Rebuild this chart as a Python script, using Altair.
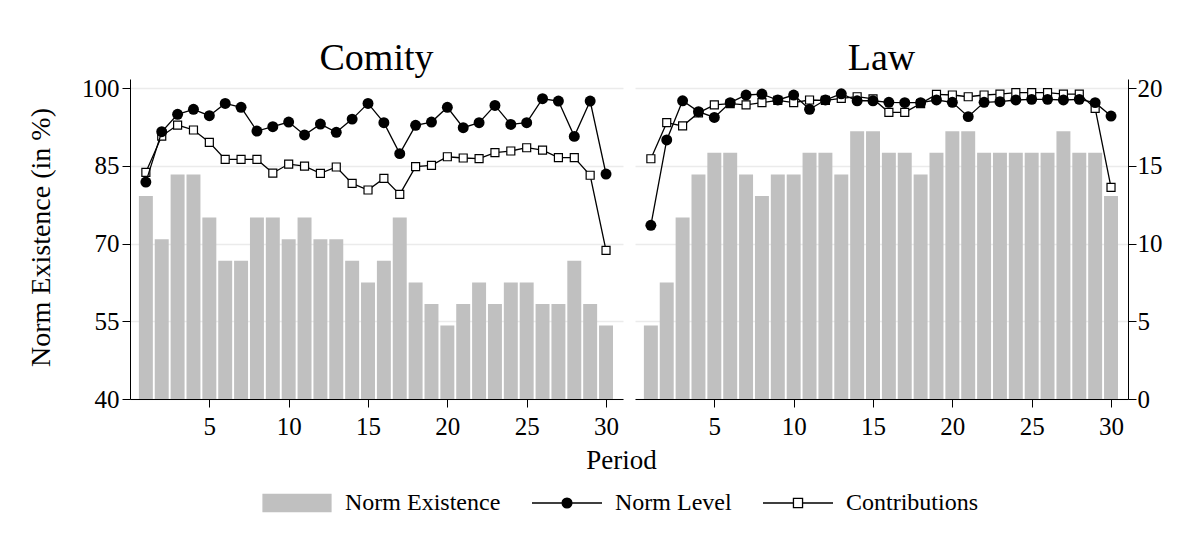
import altair as alt
import pandas as pd

# ---------------- data ----------------
periods = list(range(1, 31))

comity_existence = [79.17, 70.83, 83.33, 83.33, 75.0, 66.67, 66.67, 75.0, 75.0, 70.83,
                    75.0, 70.83, 70.83, 66.67, 62.5, 66.67, 75.0, 62.5, 58.33, 54.17,
                    58.33, 62.5, 58.33, 62.5, 62.5, 58.33, 58.33, 66.67, 58.33, 54.17]
comity_level = [13.95, 17.19, 18.31, 18.63, 18.22, 19.01, 18.76, 17.23, 17.51, 17.81,
                16.98, 17.68, 17.15, 18.0, 19.01, 17.77, 15.78, 17.6, 17.81, 18.76,
                17.45, 17.77, 18.88, 17.66, 17.77, 19.31, 19.16, 16.89, 19.16, 14.47]
comity_contrib = [14.58, 16.91, 17.62, 17.3, 16.51, 15.41, 15.41, 15.41, 14.53, 15.11,
                  14.98, 14.51, 14.92, 13.87, 13.44, 14.19, 13.16, 14.94, 15.03, 15.58,
                  15.5, 15.46, 15.84, 15.95, 16.16, 16.01, 15.52, 15.52, 14.39, 9.56]

law_existence = [54.17, 62.5, 75.0, 83.33, 87.5, 87.5, 83.33, 79.17, 83.33, 83.33,
                 87.5, 87.5, 83.33, 91.67, 91.67, 87.5, 87.5, 83.33, 87.5, 91.67,
                 91.67, 87.5, 87.5, 87.5, 87.5, 87.5, 91.67, 87.5, 87.5, 79.17]
law_level = [11.17, 16.66, 19.18, 18.48, 18.11, 19.06, 19.55, 19.61, 19.23, 19.55,
             18.63, 19.23, 19.63, 19.18, 19.18, 19.08, 19.06, 19.06, 19.23, 19.08,
             18.16, 19.08, 19.12, 19.23, 19.27, 19.27, 19.23, 19.27, 19.06, 18.2]
law_contrib = [15.45, 17.77, 17.56, 18.4, 18.91, 19.0, 18.91, 19.06, 19.2, 19.06,
               19.23, 19.2, 19.34, 19.44, 19.3, 18.44, 18.44, 19.0, 19.59, 19.55,
               19.44, 19.55, 19.61, 19.7, 19.7, 19.7, 19.61, 19.61, 18.69, 13.61]

panel_titles = ["Comity", "Law"]
series_names = ["Norm Existence", "Norm Level", "Contributions"]
x_ticks = [5, 10, 15, 20, 25, 30]
left_ticks = [40, 55, 70, 85, 100]
right_ticks = [0, 5, 10, 15, 20]

# ---------------- styling ----------------
FONT = "Liberation Serif"
BAR = "#c0c0c0"
W, H = 493, 320
XDOM = [0, 31.07]
LDOM = [40, 101.74]
RDOM = [0, 20.58]

legend_paths = [
    "M-0.97,-0.243H0.97V0.243H-0.97Z",
    "M-1,0H-0.14M0.14,0H1M-0.14,0A0.14,0.14 0 1,0 0.14,0A0.14,0.14 0 1,0 -0.14,0Z",
    "M-1,0H-0.13M0.13,0H1M-0.13,-0.13H0.13V0.13H-0.13Z",
]


def make_legend():
    return alt.Legend(title=None, orient="none", legendX=131, legendY=388,
                      direction="horizontal", symbolSize=4900, symbolStrokeWidth=1.3,
                      symbolOpacity=1, labelFont=FONT, labelFontSize=24,
                      labelColor="black", labelOffset=12, columnPadding=28,
                      padding=0, labelLimit=400)


def panel(existence, level, contrib, title, first):
    df = pd.DataFrame({"period": periods, "existence": existence,
                       "level": level, "contrib": contrib})
    base = alt.Chart(df)

    if first:
        xaxis = alt.Axis(values=x_ticks, grid=False, title="Period", titleX=491,
                         titleY=69, titleBaseline="alphabetic", titleAlign="center",
                         format="d")
    else:
        xaxis = alt.Axis(values=x_ticks, grid=False, title=None, format="d")
    xscale = alt.Scale(domain=XDOM, nice=False, zero=False)

    if first:
        laxis = alt.Axis(values=left_ticks, orient="left", grid=True,
                         title="Norm Existence (in %)", titleX=-81, titleY=158,
                         titleAngle=270, titleAlign="center", titleFontSize=28,
                         titleBaseline="alphabetic")
    else:
        laxis = None
    raxis = None if first else alt.Axis(values=right_ticks, orient="right",
                                        grid=True, title=None, labelPadding=1)

    lscale = alt.Scale(domain=LDOM, nice=False, zero=False)
    rscale = alt.Scale(domain=RDOM, nice=False, zero=False)

    bars = base.transform_calculate(
        x1="datum.period - 0.44", x2="datum.period + 0.44"
    ).mark_bar(color=BAR).encode(
        x=alt.X("x1:Q", scale=xscale, axis=xaxis),
        x2="x2:Q",
        y=alt.Y("existence:Q", scale=lscale, axis=laxis),
        y2=alt.datum(40),
    )
    c_line = base.mark_line(color="black", strokeWidth=1.3).encode(
        x=alt.X("period:Q", scale=xscale, axis=xaxis),
        y=alt.Y("contrib:Q", scale=rscale, axis=None),
    )
    c_pts = base.mark_point(shape="square", fill="white", stroke="black",
                            strokeWidth=1.2, size=64, opacity=1).encode(
        x=alt.X("period:Q", scale=xscale, axis=xaxis),
        y=alt.Y("contrib:Q", scale=rscale, axis=None),
    )
    l_line = base.mark_line(color="black", strokeWidth=1.3).encode(
        x=alt.X("period:Q", scale=xscale, axis=xaxis),
        y=alt.Y("level:Q", scale=rscale, axis=None),
    )
    l_pts = base.mark_point(shape="circle", filled=True, color="black",
                            size=120, opacity=1).encode(
        x=alt.X("period:Q", scale=xscale, axis=xaxis),
        y=alt.Y("level:Q", scale=rscale, axis=raxis),
    )
    layers = [bars, c_line, c_pts, l_line, l_pts]
    if first:
        leg_df = pd.DataFrame({"name": series_names})
        leg = alt.Chart(leg_df).transform_filter("false").mark_point(opacity=1).encode(
            shape=alt.Shape("name:N", scale=alt.Scale(domain=series_names, range=legend_paths),
                            legend=make_legend()),
            fill=alt.Fill("name:N", scale=alt.Scale(domain=series_names,
                                                    range=[BAR, "black", "white"]),
                          legend=make_legend()),
            stroke=alt.Stroke("name:N", scale=alt.Scale(domain=series_names,
                                                        range=[BAR, "black", "black"]),
                              legend=make_legend()),
        )
        layers.append(leg)

    return alt.layer(*layers).resolve_scale(y="independent").properties(
        width=W, height=H,
        title=alt.TitleParams(title, fontSize=38, font=FONT, fontWeight="normal",
                              color="black", baseline="bottom", offset=-40,
                              anchor="middle"),
    )


left = panel(comity_existence, comity_level, comity_contrib, panel_titles[0], True)
right = panel(law_existence, law_level, law_contrib, panel_titles[1], False)

chart = alt.hconcat(left, right, spacing=12, bounds="flush").resolve_scale(
    y="independent", x="independent"
).properties(
    padding={"left": 19, "top": 32, "right": 10, "bottom": 10},
    background="white",
).configure_view(stroke=None).configure_axis(
    labelFont=FONT, labelFontSize=25, labelColor="black",
    titleFont=FONT, titleFontSize=27, titleFontWeight="normal", titleColor="black",
    domainColor="black", domainWidth=1, tickColor="black", tickWidth=1, tickSize=8,
    gridColor="#ebebeb", gridWidth=1.5,
).configure_axisX(labelPadding=7).configure_axisLeft(labelPadding=3)

chart.save("out.html", embed_options={"renderer": "svg", "actions": False})
